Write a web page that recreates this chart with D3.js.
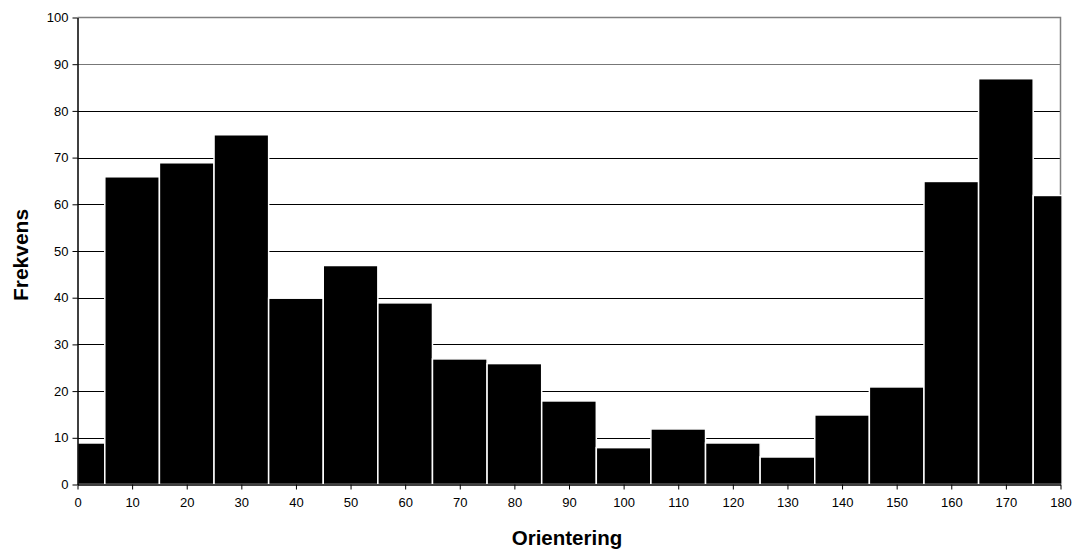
<!DOCTYPE html>
<html><head><meta charset="utf-8">
<script src="https://cdn.jsdelivr.net/npm/d3@7"></script>
<style>body{margin:0;background:#fff}svg{display:block}text{font-family:"Liberation Sans",Arial,sans-serif}</style>
</head><body>
<svg id="c" width="1072" height="552"></svg>
<script>
const binCenters = [0,10,20,30,40,50,60,70,80,90,100,110,120,130,140,150,160,170,180];
const counts = [9,66,69,75,40,47,39,27,26,18,8,12,9,6,15,21,65,87,62];
const xTicks = [0,10,20,30,40,50,60,70,80,90,100,110,120,130,140,150,160,170,180];
const yTicks = [0,10,20,30,40,50,60,70,80,90,100];
const xTitle = "Orientering", yTitle = "Frekvens";

const svg = d3.select("#c");
const L = 77.5, R = 1060.5, T = 17.5, B = 484.5;
const x = d3.scaleLinear().domain([0,180]).range([L,R]);
const y = d3.scaleLinear().domain([0,100]).range([B,T]);

// gridlines
svg.append("g").selectAll("line").data(yTicks.filter(d=>d>0 && d<100)).join("line")
  .attr("x1",L).attr("x2",R).attr("y1",d=>Math.round(y(d))+0.5).attr("y2",d=>Math.round(y(d))+0.5)
  .attr("stroke",d=>d>=90?"#777":"#000").attr("stroke-width",1);
// top and right border
svg.append("path").attr("d",`M${L},${T}H${R}V${B}`).attr("fill","none").attr("stroke","#808080").attr("stroke-width",1.5);

// bars
svg.append("g").selectAll("rect").data(binCenters.map((c,i)=>({c,v:counts[i]}))).join("rect")
  .attr("x",d=>x(Math.max(0,d.c-5)))
  .attr("width",d=>x(Math.min(180,d.c+5)+ (d.c===180?0.3:0))-x(Math.max(0,d.c-5)))
  .attr("y",d=>y(d.v)+0.5).attr("height",d=>B-y(d.v)-0.5)
  .attr("fill","#000").attr("stroke","#fff").attr("stroke-width",1.5);

// axes
const ax = svg.append("g").attr("transform",`translate(0,${B})`)
  .call(d3.axisBottom(x).tickValues(xTicks).tickSize(5).tickSizeOuter(0).tickPadding(8));
const ay = svg.append("g").attr("transform",`translate(${L},0)`)
  .call(d3.axisLeft(y).tickValues(yTicks).tickSize(5).tickSizeOuter(0).tickPadding(4));
[ax,ay].forEach(g=>{
  g.select(".domain").attr("stroke","#000").attr("stroke-width",1.5);
  g.selectAll(".tick line").attr("stroke","#000");
  g.selectAll("text").attr("font-size",13).attr("fill","#000").attr("font-family","Liberation Sans, Arial, sans-serif");
});

svg.append("text").attr("x",567).attr("y",545).attr("text-anchor","middle")
  .attr("font-size",20.5).attr("font-weight","bold").text(xTitle);
svg.append("text").attr("transform",`translate(28,${255}) rotate(-90)`).attr("text-anchor","middle")
  .attr("font-size",21).attr("font-weight","bold").text(yTitle);
</script>
</body></html>
